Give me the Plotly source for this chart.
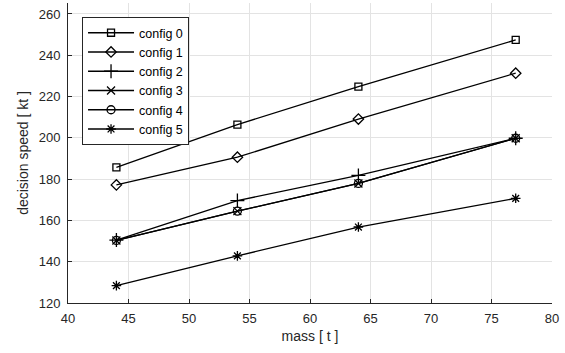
import plotly.graph_objects as go

mass = [44, 54, 64, 77]
config_names = ["config 0", "config 1", "config 2", "config 3", "config 4", "config 5"]
config0 = [185.7, 206.4, 224.8, 247.4]
config1 = [177.2, 190.6, 209.1, 231.3]
config2 = [150.5, 169.6, 181.8, 199.8]
config3 = [150.3, 164.5, 177.9, 199.8]
config4 = [150.3, 164.5, 177.9, 199.8]
config5 = [128.4, 142.8, 156.8, 170.7]
x_ticks = [40, 45, 50, 55, 60, 65, 70, 75, 80]
y_ticks = [120, 140, 160, 180, 200, 220, 240, 260]

series = [config0, config1, config2, config3, config4, config5]
symbols = ["square-open", "diamond-open", "cross-thin-open", "x-thin-open", "circle-open", "asterisk-open"]
sizes = [7, 8, 10, 8, 8, 8]

fig = go.Figure()
for name, ys, sym, sz in zip(config_names, series, symbols, sizes):
    fig.add_trace(go.Scatter(
        x=mass, y=ys, name=name, mode="lines+markers",
        line=dict(color="#000000", width=1.3),
        marker=dict(symbol=sym, size=sz, color="#000000",
                    line=dict(color="#000000", width=1.3)),
    ))

axis_color = "#262626"
fig.update_layout(
    width=565, height=353,
    margin=dict(l=68, r=13, t=3, b=50),
    paper_bgcolor="white", plot_bgcolor="white",
    font=dict(family="Liberation Sans, Arial, sans-serif", size=13, color=axis_color),
    showlegend=True,
    legend=dict(
        x=0.029, y=0.953, xanchor="left", yanchor="top",
        bgcolor="white", bordercolor=axis_color, borderwidth=1,
        font=dict(size=12.5, color="#000000"),
        tracegroupgap=0, itemwidth=46,
    ),
    xaxis=dict(
        range=[40, 80], tickvals=x_ticks, ticktext=[str(v) for v in x_ticks],
        showgrid=True, gridcolor="#e3e3e3", gridwidth=1,
        showline=True, linecolor=axis_color, linewidth=1,
        ticks="inside", ticklen=4, tickcolor=axis_color,
        zeroline=False, mirror=False, ticklabelstandoff=3,
        title=dict(text="mass [ t ]", font=dict(size=14), standoff=6),
    ),
    yaxis=dict(
        range=[120, 265.3], tickvals=y_ticks, ticktext=[str(v) for v in y_ticks],
        showgrid=True, gridcolor="#e3e3e3", gridwidth=1,
        showline=True, linecolor=axis_color, linewidth=1,
        ticks="inside", ticklen=4, tickcolor=axis_color,
        zeroline=False, mirror=False, ticklabelstandoff=4,
        title=dict(text="decision speed [ kt ]", font=dict(size=14), standoff=6),
    ),
)

fig.write_html("out.html")
